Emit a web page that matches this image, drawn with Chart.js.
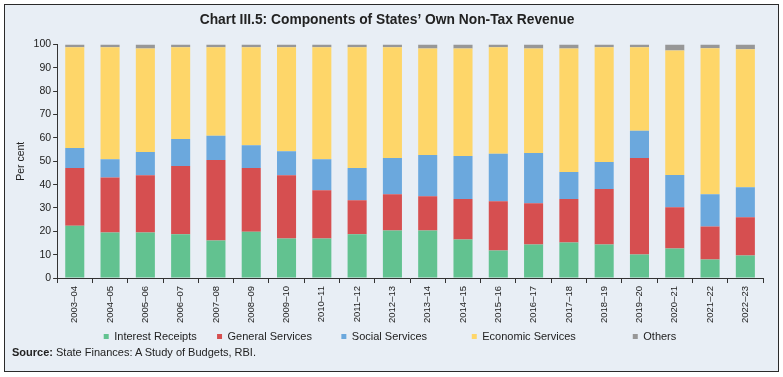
<!DOCTYPE html>
<html>
<head>
<meta charset="utf-8">
<script src="https://cdn.jsdelivr.net/npm/chart.js@4.4.1/dist/chart.umd.min.js"></script>
<style>
  html, body { margin: 0; padding: 0; background: #ffffff; }
  #frame {
    position: absolute; left: 4px; top: 4px; width: 773px; height: 366px;
    border: 1.5px solid #2a2a2a; background: #e8eef5;
  }
  #wrap { position: absolute; left: 0; top: 0; width: 783px; height: 352px; }
  #source {
    position: absolute; left: 12px; top: 346px;
    font-family: "Liberation Sans", Arial, sans-serif; font-size: 11px; color: #222;
  }
</style>
</head>
<body>
<div id="frame"></div>
<div id="wrap"><canvas id="chart"></canvas></div>
<div id="source"><b>Source:</b> State Finances: A Study of Budgets, RBI.</div>
<script>
// years on the x axis
const years = [
  "2003–04", "2004–05", "2005–06", "2006–07", "2007–08", "2008–09", "2009–10",
  "2010–11", "2011–12", "2012–13", "2013–14", "2014–15", "2015–16", "2016–17",
  "2017–18", "2018–19", "2019–20", "2020–21", "2021–22", "2022–23",
];

// shares in per cent
const interestReceipts = [22.4, 19.5, 19.5, 18.7, 16.1, 19.8, 16.9, 16.9, 18.7, 20.4, 20.4, 16.5, 11.8, 14.4, 15.2, 14.4, 10.1, 12.6, 7.9, 9.6];
const generalServices  = [24.7, 23.6, 24.5, 29.3, 34.5, 27.3, 27.1, 20.7, 14.6, 15.5, 14.6, 17.3, 21.1, 17.6, 18.6, 23.7, 41.3, 17.7, 14.2, 16.4];
const socialServices   = [8.6, 7.8, 10.0, 11.5, 10.3, 9.8, 10.3, 13.3, 13.8, 15.5, 17.7, 18.5, 20.3, 21.6, 11.6, 11.6, 11.7, 13.8, 13.8, 12.9];
const economicServices = [43.1, 47.9, 44.3, 39.3, 37.9, 41.9, 44.5, 47.9, 51.7, 47.4, 45.6, 46.0, 45.6, 44.7, 52.9, 49.1, 35.7, 53.4, 62.5, 59.1];
const others           = [1.2, 1.2, 1.7, 1.2, 1.2, 1.2, 1.2, 1.2, 1.2, 1.2, 1.7, 1.7, 1.2, 1.7, 1.7, 1.2, 1.2, 2.5, 1.6, 2.0];

const yTicks = [0, 10, 20, 30, 40, 50, 60, 70, 80, 90, 100];

const FONT = "'Liberation Sans', Arial, sans-serif";
const AXIS = "#333333";

// legend items in the original are unevenly spaced, so pad each label a bit
const legendGaps = [5, 8, 13, 17, 0];

function series(label, data, color) {
  return {
    label, data,
    backgroundColor: color,
    borderWidth: 0,
    categoryPercentage: 1,
    barPercentage: 0.54,
  };
}

// nudge the legend row sideways to line up with the original
const legendShift = {
  id: "legendShift",
  afterLayout(chart) {
    const lg = chart.legend;
    if (!lg) return;
    lg.left += 3;
    lg.right += 3;
  },
};

const canvas = document.getElementById("chart");
canvas.width = 783;
canvas.height = 352;

new Chart(canvas.getContext("2d"), {
  type: "bar",
  data: {
    labels: years,
    datasets: [
      series("Interest Receipts", interestReceipts, "#62c290"),
      series("General Services", generalServices, "#d64f50"),
      series("Social Services", socialServices, "#6ba8dd"),
      series("Economic Services", economicServices, "#fed669"),
      series("Others", others, "#979797"),
    ],
  },
  plugins: [legendShift],
  options: {
    responsive: false,
    animation: false,
    layout: { padding: { left: 11, right: 20, top: 0, bottom: 0 } },
    plugins: {
      title: {
        display: true,
        text: "Chart III.5: Components of States’ Own Non-Tax Revenue",
        color: "#222",
        font: { family: FONT, size: 13.8, weight: "bold" },
        padding: { top: 12, bottom: 16 },
      },
      legend: {
        position: "bottom",
        labels: {
          color: "#222",
          font: { family: FONT, size: 11 },
          boxWidth: 5,
          boxHeight: 5,
          padding: 5,
          generateLabels(chart) {
            const items = Chart.defaults.plugins.legend.labels.generateLabels(chart);
            items.forEach((it, i) => { it.text = it.text + " ".repeat(legendGaps[i]); });
            return items;
          },
        },
      },
      tooltip: { enabled: false },
    },
    scales: {
      x: {
        stacked: true,
        grid: { display: true, drawOnChartArea: false, drawTicks: true, tickLength: 5, color: AXIS },
        border: { color: AXIS, width: 1 },
        ticks: { color: "#222", font: { family: FONT, size: 9.5 }, maxRotation: 90, minRotation: 90, autoSkip: false, padding: 3 },
      },
      y: {
        stacked: true,
        min: 0,
        max: 100,
        afterBuildTicks: (axis) => { axis.ticks = yTicks.map((v) => ({ value: v })); },
        grid: { display: true, drawOnChartArea: false, drawTicks: true, tickLength: 4, color: AXIS },
        border: { color: AXIS, width: 1 },
        ticks: { color: "#222", font: { family: FONT, size: 10.5 }, padding: 2 },
        title: { display: true, text: "Per cent", color: "#222", font: { family: FONT, size: 10.5 }, padding: 4 },
      },
    },
  },
});
</script>
</body>
</html>
